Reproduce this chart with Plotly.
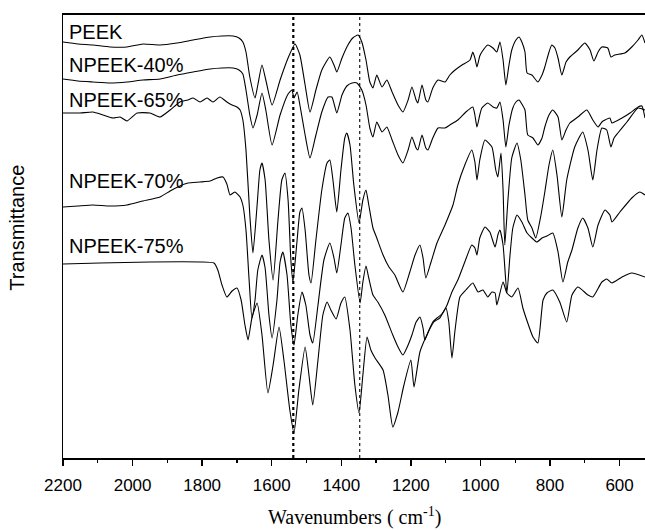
import plotly.graph_objects as go

# Transmittance in arbitrary units (offset spectra), x = wavenumber (cm^-1)
peek_wn = [2200,2157,2114,2065,2016,1970,1921,1872,1826,1777,1743,1711,1694,1683,1674,1663,1648,1640,1628,1617,
           1599,1576,1553,1533,1519,1504,1490,1473,1456,1433,1421,1413,1398,1381,1367,1352,1341,1329,1318,1309,
           1298,1283,1269,1254,1237,1223,1208,1197,1185,1180,1168,1157,1151,1137,1122,1102,1088,1073,1053,1030,
           1022,1016,1010,1002,996,979,964,953,944,935,927,918,910,898,889,881,872,866,852,835,
           823,815,803,795,786,777,766,754,743,720,700,685,674,662,651,634,625,614,585,565,547,536,527]
peek_t = [416,414,413,411,411,414,413,415,418,421,422,422,420,416,406,381,360,373,393,378,
          353,378,400,414,403,373,346,368,388,401,393,386,400,413,420,423,416,398,376,370,
          383,371,378,366,353,346,358,371,358,355,373,358,356,370,378,376,383,388,393,398,
          406,400,391,402,406,413,410,406,416,398,373,393,408,418,421,416,406,385,383,376,
          383,391,406,413,410,400,383,396,401,408,415,408,397,406,411,410,401,403,405,411,418,423,415]

n40_wn = [2200,2157,2114,2065,2016,1970,1921,1872,1826,1777,1743,1711,1694,1683,1674,1663,1654,1642,1628,1617,
          1599,1576,1553,1542,1536,1527,1519,1504,1490,1473,1456,1438,1427,1413,1398,1384,1369,1355,1341,1329,
          1318,1309,1298,1283,1269,1254,1237,1223,1208,1197,1185,1180,1168,1157,1151,1137,1122,1102,1088,1065,
          1042,1022,1016,1010,1002,996,979,964,953,944,935,927,918,907,898,889,881,872,864,849,
          835,823,815,803,792,777,766,754,743,720,694,677,662,651,642,628,622,593,570,547,536,527]
n40_t = [379,377,376,375,376,378,379,383,386,389,390,390,388,384,368,343,330,343,365,348,
         313,343,364,368,360,366,353,323,300,323,346,361,361,345,363,372,375,375,368,353,
         330,321,336,326,331,318,303,295,308,321,310,308,323,310,308,320,330,330,333,338,
         346,351,343,331,343,350,355,351,350,356,338,311,333,350,356,358,354,348,323,320,
         313,320,331,343,348,341,318,328,335,341,348,338,331,336,338,340,335,340,345,351,352,340]

n65_wn = [2200,2151,2114,2085,2056,2036,2016,1987,1950,1921,1892,1864,1841,1826,1806,1786,1769,1749,1729,1714,
          1700,1691,1683,1674,1663,1654,1642,1634,1628,1619,1608,1596,1582,1571,1562,1553,1545,1539,1527,1519,
          1513,1504,1493,1487,1473,1456,1441,1433,1424,1413,1401,1390,1384,1375,1364,1349,1338,1329,1321,1309,
          1298,1280,1263,1246,1223,1203,1188,1174,1165,1157,1142,1125,1102,1079,1065,1045,1025,1016,1010,1002,
          987,967,956,950,941,935,930,921,910,895,884,872,864,852,841,826,815,803,792,780,
          766,752,729,706,691,677,665,651,637,625,616,605,579,547,527]
n65_t = [345,345,346,343,340,341,337,345,345,341,348,356,358,360,356,360,356,361,356,353,
         351,348,338,308,243,205,253,288,295,278,218,178,238,278,285,258,198,176,218,246,
         250,228,183,175,218,268,295,298,278,246,288,320,325,313,273,235,258,268,253,230,
         220,203,191,183,166,186,203,213,200,180,196,215,233,253,273,293,308,296,278,298,
         318,311,288,281,305,268,213,258,300,315,298,263,238,230,220,243,266,293,308,283,
         241,278,311,326,308,278,308,330,328,311,320,325,336,350,348]

n70_wn = [2200,2157,2114,2065,2016,1970,1921,1892,1864,1841,1806,1777,1757,1740,1729,1720,1711,1706,1691,1683,
          1674,1665,1657,1648,1640,1628,1619,1608,1599,1585,1576,1568,1556,1545,1536,1525,1513,1502,1490,1482,
          1467,1450,1433,1421,1413,1401,1390,1381,1372,1361,1346,1338,1329,1321,1309,1295,1275,1252,1237,1223,
          1208,1197,1185,1174,1165,1160,1148,1137,1125,1111,1096,1082,1065,1045,1025,1016,1010,1002,987,973,
          958,950,944,935,924,915,907,895,881,866,852,838,823,809,792,777,763,749,737,720,
          706,691,677,662,642,628,622,599,565,542,527]
n70_t = [251,252,253,252,253,257,261,267,272,275,276,277,280,281,274,263,265,266,261,253,
         228,178,140,158,188,203,190,143,120,158,196,206,183,133,113,143,166,153,123,115,
         153,198,215,200,185,213,240,245,230,193,155,176,192,180,163,156,143,123,111,103,
         113,123,136,141,130,118,128,136,140,144,153,166,178,196,213,210,203,220,231,226,
         211,223,228,213,165,203,230,243,236,225,220,216,220,222,225,206,176,196,208,230,
         240,230,211,233,248,243,236,246,260,266,263]

n75_wn = [2200,2094,1950,1806,1766,1755,1743,1729,1714,1700,1688,1677,1668,1657,1642,1628,1611,1596,1579,1565,
          1548,1536,1522,1504,1493,1482,1467,1453,1441,1430,1415,1401,1390,1375,1361,1349,1338,1326,1315,1303,
          1280,1266,1252,1237,1220,1200,1191,1174,1154,1134,1117,1099,1091,1082,1073,1059,1042,1022,1007,993,
          979,967,958,953,935,924,910,892,878,864,849,835,820,809,792,772,752,737,720,691,
          677,651,637,622,593,565,527]
n75_t = [194,195,196,196,195,188,173,161,167,170,158,133,118,140,155,123,65,93,131,98,
         48,25,68,111,83,53,98,143,156,148,139,155,161,128,73,45,83,121,108,100,
         88,63,31,46,73,98,71,106,123,136,140,150,136,100,128,161,168,175,166,168,
         161,166,165,153,176,165,161,170,150,135,121,115,158,165,168,156,136,163,171,163,
         161,176,179,175,181,185,181]

series = [(peek_wn, peek_t), (n40_wn, n40_t), (n65_wn, n65_t), (n70_wn, n70_t), (n75_wn, n75_t)]
labels = ["PEEK", "NPEEK-40%", "NPEEK-65%", "NPEEK-70%", "NPEEK-75%"]
label_pos_t = [426, 393, 358, 277, 212]
marker_lines = [1538, 1347]

fig = go.Figure()
for (wn, t), name in zip(series, labels):
    fig.add_trace(go.Scatter(x=wn, y=t, mode="lines", name=name,
                             line=dict(color="black", width=1.1, shape="spline", smoothing=0.5),
                             showlegend=False, hoverinfo="skip"))

fig.add_shape(type="line", x0=marker_lines[0], x1=marker_lines[0], y0=0, y1=443,
              xref="x", yref="y", line=dict(color="black", width=2.2, dash="dot"))
fig.add_shape(type="line", x0=marker_lines[1], x1=marker_lines[1], y0=0, y1=443,
              xref="x", yref="y", line=dict(color="black", width=1.1, dash="3px,3px"))

sans = "Liberation Sans, Arial, sans-serif"
for name, t in zip(labels, label_pos_t):
    fig.add_annotation(x=2189, y=t, xref="x", yref="y", text=name, showarrow=False,
                       xanchor="left", yanchor="middle", font=dict(family=sans, size=20, color="black"))

fig.add_annotation(x=0.5, y=-0.133, xref="paper", yref="paper", yanchor="middle",
                   text="Wavenumbers ( cm<sup>-1</sup>)", showarrow=False,
                   font=dict(family="Liberation Serif, Times New Roman, serif", size=20, color="black"))
fig.add_annotation(x=-0.079, y=0.52, xref="paper", yref="paper", text="Transmittance",
                   textangle=-90, showarrow=False, xanchor="center", yanchor="middle",
                   font=dict(family=sans, size=20, color="black"))

fig.update_layout(
    width=645, height=530,
    margin=dict(l=63, r=0, t=15, b=72),
    paper_bgcolor="white", plot_bgcolor="white",
    xaxis=dict(range=[2200, 527], tickmode="linear", tick0=2200, dtick=200,
               ticks="outside", ticklen=6, tickwidth=1.5, tickcolor="black",
               showline=True, linecolor="black", linewidth=2, mirror=True,
               showgrid=False, zeroline=False, ticklabelstandoff=5,
               tickfont=dict(family=sans, size=17, color="black"),
               minor=dict(ticks="outside", ticklen=3, tickwidth=1.2, dtick=100, tick0=2200, tickcolor="black", showgrid=False)),
    yaxis=dict(range=[0, 443], showticklabels=False, ticks="", showgrid=False, zeroline=False,
               showline=True, linecolor="black", linewidth=1.5),
)

# remove the default 8px page margin so the 645x530 figure fills the window exactly
fig.write_html("out.html", config={"displayModeBar": False, "staticPlot": True},
               post_script="document.body.style.margin='0px';document.body.style.overflow='hidden';")
